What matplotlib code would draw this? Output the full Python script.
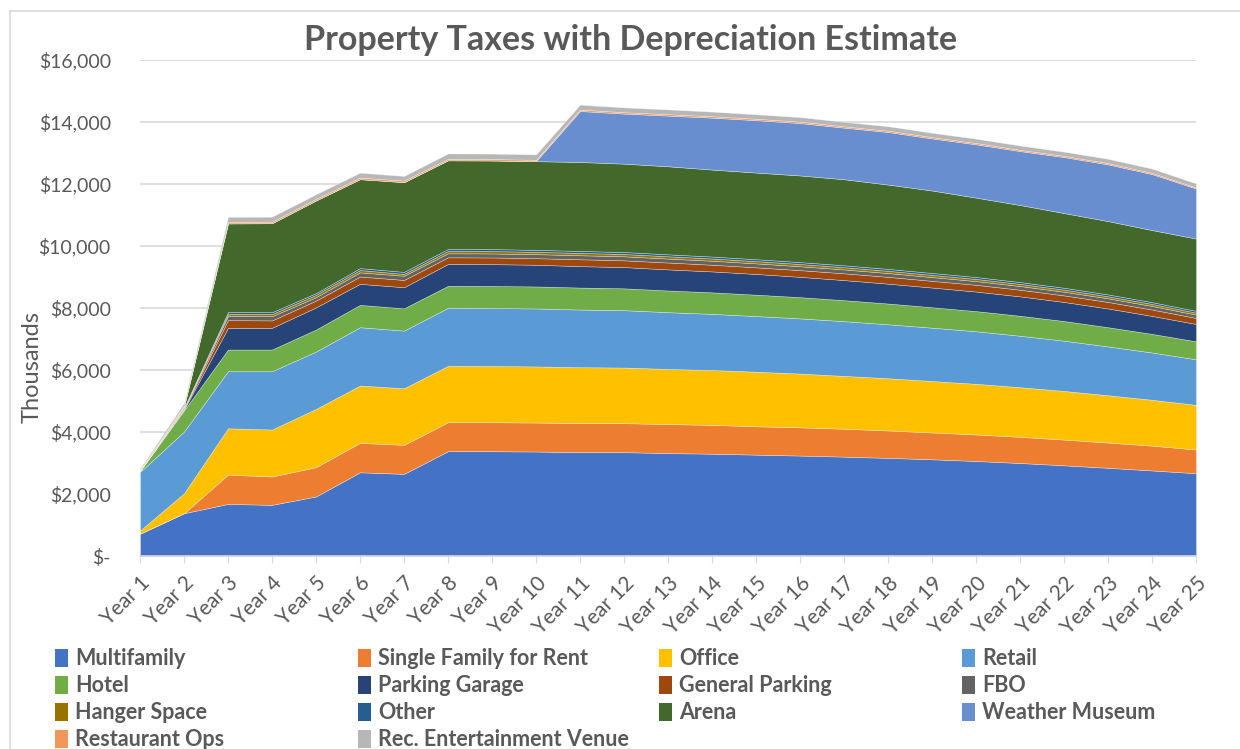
import matplotlib
matplotlib.use("Agg")
import matplotlib.pyplot as plt
from matplotlib.patches import Patch
from matplotlib.lines import Line2D
import numpy as np

years = [f"Year {i}" for i in range(1, 26)]

multifamily = [720, 1380, 1680, 1650, 1920, 2700, 2650, 3380, 3380, 3370, 3350, 3350, 3320,
               3300, 3270, 3240, 3205, 3165, 3120, 3065, 3000, 2925, 2845, 2760, 2670]
single_family = [0, 0, 945, 915, 945, 950, 935, 935, 935, 935, 940, 935, 935,
                 930, 915, 910, 900, 885, 865, 855, 845, 830, 815, 800, 765]
office = [100, 645, 1495, 1515, 1880, 1850, 1825, 1820, 1815, 1810, 1800, 1795, 1780,
          1770, 1760, 1735, 1705, 1685, 1660, 1635, 1600, 1570, 1525, 1480, 1440]
retail = [1890, 1990, 1840, 1880, 1850, 1880, 1860, 1870, 1870, 1870, 1860, 1850, 1830,
          1810, 1795, 1780, 1765, 1740, 1720, 1695, 1660, 1620, 1575, 1525, 1470]
hotel = [40, 680, 700, 700, 710, 720, 720, 710, 710, 710, 710, 705, 700,
         695, 690, 685, 678, 670, 660, 650, 645, 635, 620, 600, 580]
parking_garage = [0, 25, 700, 700, 715, 680, 680, 705, 705, 700, 690, 685, 680,
                  675, 668, 655, 648, 640, 635, 630, 625, 615, 605, 580, 560]
general_parking = [0, 20, 250, 240, 220, 235, 235, 215, 215, 212, 222, 218, 222,
                   216, 214, 216, 218, 220, 216, 218, 214, 212, 210, 206, 195]
fbo = [0, 20, 135, 135, 110, 135, 135, 130, 130, 130, 130, 130, 128,
       128, 128, 126, 125, 123, 122, 120, 120, 118, 117, 115, 106]
hanger = [0, 10, 65, 70, 75, 75, 60, 75, 75, 75, 74, 74, 73,
          73, 72, 72, 72, 72, 70, 70, 68, 68, 66, 65, 65]
other = [0, 10, 60, 60, 55, 62, 65, 65, 65, 64, 64, 64, 63,
         63, 62, 62, 62, 62, 62, 62, 60, 60, 60, 58, 58]
arena = [0, 40, 2860, 2870, 2990, 2870, 2895, 2860, 2860, 2860, 2870, 2850, 2840,
         2805, 2795, 2795, 2775, 2720, 2660, 2560, 2485, 2410, 2365, 2325, 2330]
weather_museum = [0, 0, 0, 0, 0, 0, 0, 0, 0, 0, 1645, 1615, 1635,
                  1675, 1690, 1690, 1665, 1695, 1680, 1720, 1740, 1805, 1830, 1805, 1615]
restaurant = [30, 40, 50, 50, 50, 50, 50, 45, 45, 45, 45, 45, 45,
              45, 45, 45, 42, 42, 42, 42, 40, 40, 40, 40, 35]
rec_venue = [40, 80, 160, 160, 150, 160, 150, 175, 175, 175, 160, 155, 155,
             150, 145, 148, 146, 145, 142, 140, 140, 135, 140, 138, 130]

series_names = ["Multifamily", "Single Family for Rent", "Office", "Retail", "Hotel",
                "Parking Garage", "General Parking", "FBO", "Hanger Space", "Other",
                "Arena", "Weather Museum", "Restaurant Ops", "Rec. Entertainment Venue"]
series_values = [multifamily, single_family, office, retail, hotel, parking_garage,
                 general_parking, fbo, hanger, other, arena, weather_museum,
                 restaurant, rec_venue]
colors = ["#4472C4", "#ED7D31", "#FFC000", "#5B9BD5", "#70AD47", "#264478",
          "#9E480E", "#636363", "#997300", "#255E91", "#43682B", "#698ED0",
          "#F1975A", "#B7B7B7"]

y_ticks = [0, 2000, 4000, 6000, 8000, 10000, 12000, 14000, 16000]
y_tick_labels = ["$-", "$2,000", "$4,000", "$6,000", "$8,000", "$10,000",
                 "$12,000", "$14,000", "$16,000"]

txt = "#595959"
font = "Lato"

fig = plt.figure(figsize=(12.4, 7.49), dpi=100)
ax = fig.add_axes([140 / 1240, 1 - 556 / 749, (1196 - 140) / 1240, (556 - 60) / 749])

x = np.arange(len(years))
ax.stackplot(x, *series_values, colors=colors, linewidth=0.4, edgecolor=(1, 1, 1, 0.5),
             zorder=2)

ax.set_xlim(0, len(years) - 1)
ax.set_ylim(0, 16000)
ax.set_yticks(y_ticks)
ax.set_yticklabels(y_tick_labels, fontsize=14, color=txt, family=font)
ax.set_xticks(x)
ax.set_xticklabels(years, rotation=45, ha="right", rotation_mode="anchor",
                   fontsize=15, color=txt, family=font)
ax.tick_params(axis="y", length=0, pad=21)
ax.tick_params(axis="x", length=5, color="#D9D9D9", pad=7)
ax.grid(axis="y", color="#D9D9D9", linewidth=1.2, zorder=0)
ax.set_axisbelow(True)
for s in ["top", "right", "left"]:
    ax.spines[s].set_visible(False)
ax.spines["bottom"].set_color("#D9D9D9")
ax.spines["bottom"].set_linewidth(1.2)

fig.text(32 / 1240, 1 - 367 / 749, "Thousands", rotation=90, ha="center", va="center",
         fontsize=17, color=txt, family=font)
fig.text(631 / 1240, 1 - 40 / 749, "Property Taxes with Depreciation Estimate",
         ha="center", va="center", fontsize=24.5, fontweight="bold", color=txt, family=font)

# chart area border
fig.add_artist(Line2D([10 / 1240, 1], [1 - 11 / 749, 1 - 11 / 749], color="#D9D9D9",
                      linewidth=1.2, transform=fig.transFigure))
fig.add_artist(Line2D([10 / 1240, 10 / 1240], [0, 1 - 11 / 749], color="#D9D9D9",
                      linewidth=1.2, transform=fig.transFigure))

# legend: 4 columns laid out row-wise
col_x = [55, 358, 659, 962]
for c in range(4):
    idx = list(range(c, len(series_names), 4))
    handles = [Patch(facecolor=colors[i], edgecolor="none") for i in idx]
    labels = [series_names[i] for i in idx]
    leg = fig.legend(handles, labels, loc="upper left",
                     bbox_to_anchor=(col_x[c] / 1240, 1 - 648 / 749),
                     frameon=False, ncol=1, handlelength=0.6, handleheight=0.9,
                     handletextpad=0.35, labelspacing=0.28, borderaxespad=0,
                     borderpad=0,
                     prop={"family": font, "size": 15.5, "weight": "bold"})
    for t in leg.get_texts():
        t.set_color(txt)

fig.savefig("out.png", dpi=100)
